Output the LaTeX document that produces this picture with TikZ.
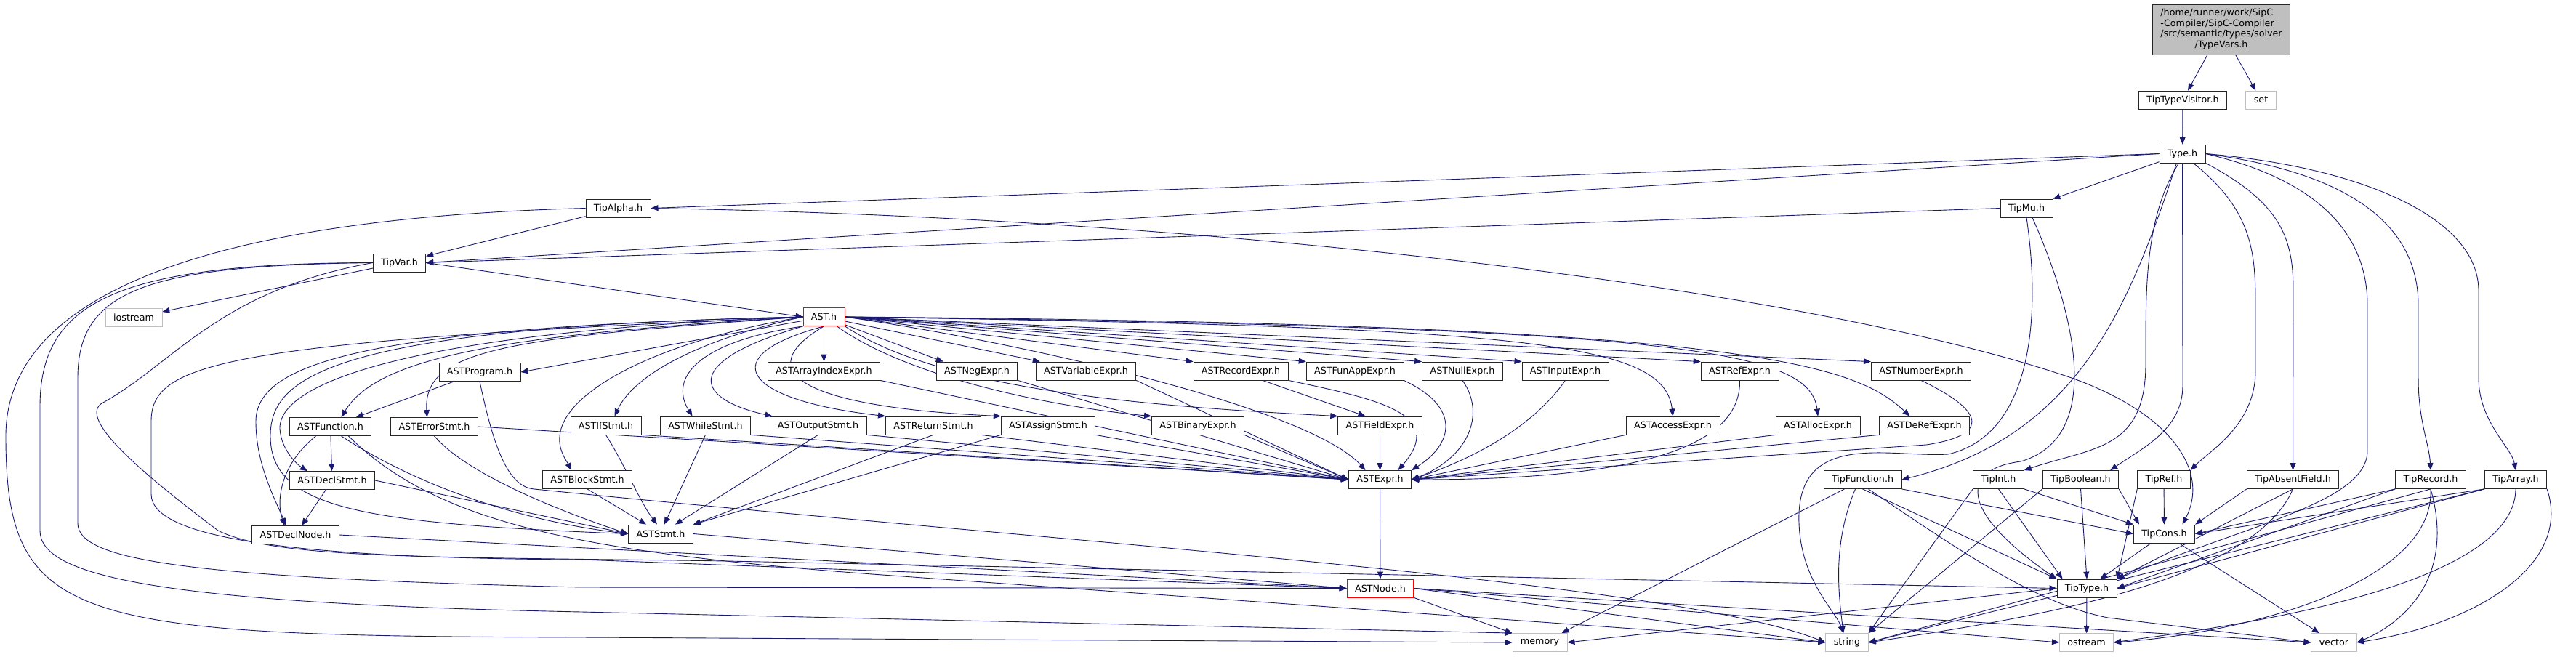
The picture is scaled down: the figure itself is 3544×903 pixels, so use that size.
\documentclass[tikz,border=0pt]{standalone}
\usepackage{fontspec}
\setmainfont{DejaVu Sans}
\usetikzlibrary{arrows.meta,backgrounds}
\definecolor{edgeblue}{RGB}{25,25,112}

\begin{document}
\begin{tikzpicture}[x=1pt,y=-1pt,
  hfile/.style={draw=black!85,fill=white,line width=0.8pt,minimum height=25pt,
    inner xsep=11pt,inner ysep=0pt,font=\fontsize{12.7}{14.7}\selectfont},
  sysfile/.style={hfile,draw=black!25},
  redfile/.style={hfile,draw=red},
  dep/.style={draw=edgeblue,line width=0.9pt,-{Triangle[length=10pt,width=8pt]}}]
\useasboundingbox (0,0) rectangle (3544,903);

% top of the graph
\node[hfile,fill=black!25,inner ysep=5pt] (tvars) at (3056,40.5) {\begin{tabular}{@{}l@{}}/home/runner/work/SipC\\-Compiler/SipC-Compiler\\/src/semantic/types/solver\\\multicolumn{1}{@{}c@{}}{/TypeVars.h}\end{tabular}};
\node[hfile] (ttv) at (3003,137.5) {TipTypeVisitor.h};
\node[sysfile] (hset) at (3110.5,137.5) {set};
\node[hfile] (type) at (3002.5,211.5) {Type.h};
\node[hfile] (alpha) at (850.5,286.5) {TipAlpha.h};
\node[hfile] (mu) at (2788,286.5) {TipMu.h};
\node[hfile] (var) at (549.5,361.5) {TipVar.h};
\node[sysfile] (ios) at (184,437) {iostream};
\node[redfile] (ast) at (1133.5,436) {AST.h};

% AST headers
\node[hfile] (prog) at (660,512) {ASTProgram.h};
\node[hfile] (aidx) at (1133.5,510.5) {ASTArrayIndexExpr.h};
\node[hfile] (neg) at (1344,510.5) {ASTNegExpr.h};
\node[hfile] (vexp) at (1494,510.5) {ASTVariableExpr.h};
\node[hfile] (rec) at (1707,510.5) {ASTRecordExpr.h};
\node[hfile] (fapp) at (1864,510.5) {ASTFunAppExpr.h};
\node[hfile] (null) at (2012,510.5) {ASTNullExpr.h};
\node[hfile] (inp) at (2153.5,510.5) {ASTInputExpr.h};
\node[hfile] (ref) at (2393.5,510.5) {ASTRefExpr.h};
\node[hfile] (num) at (2643,510.5) {ASTNumberExpr.h};
\node[hfile] (func) at (454.5,587) {ASTFunction.h};
\node[hfile] (err) at (597.5,587) {ASTErrorStmt.h};
\node[hfile] (ifs) at (833.5,585.5) {ASTIfStmt.h};
\node[hfile] (whl) at (970.5,585.5) {ASTWhileStmt.h};
\node[hfile] (outs) at (1125.5,585.5) {ASTOutputStmt.h};
\node[hfile] (ret) at (1284,585.5) {ASTReturnStmt.h};
\node[hfile] (asg) at (1442,585.5) {ASTAssignStmt.h};
\node[hfile] (bin) at (1648,585.5) {ASTBinaryExpr.h};
\node[hfile] (fld) at (1898.5,585.5) {ASTFieldExpr.h};
\node[hfile] (acc) at (2301.5,585.5) {ASTAccessExpr.h};
\node[hfile] (alloc) at (2501,585.5) {ASTAllocExpr.h};
\node[hfile] (deref) at (2647.5,585.5) {ASTDeRefExpr.h};
\node[hfile] (dstmt) at (457,661) {ASTDeclStmt.h};
\node[hfile] (blk) at (808,660) {ASTBlockStmt.h};
\node[hfile] (expr) at (1898.5,660) {ASTExpr.h};
\node[hfile] (dnode) at (406.5,736) {ASTDeclNode.h};
\node[hfile] (stmt) at (909,734.5) {ASTStmt.h};
\node[redfile] (astnode) at (1899,809.5) {ASTNode.h};

% Tip types
\node[hfile] (tfun) at (2562.5,660) {TipFunction.h};
\node[hfile] (tint) at (2749.5,660) {TipInt.h};
\node[hfile] (tbool) at (2862.5,660) {TipBoolean.h};
\node[hfile] (tref) at (2977,660) {TipRef.h};
\node[hfile] (tabs) at (3154.5,660) {TipAbsentField.h};
\node[hfile] (trec) at (3344,660) {TipRecord.h};
\node[hfile] (tarr) at (3461,660) {TipArray.h};
\node[hfile] (tcons) at (2977.5,734.5) {TipCons.h};
\node[hfile] (ttype) at (2871,809.5) {TipType.h};

% system headers
\node[sysfile] (mem) at (2118.5,884) {memory};
\node[sysfile] (str) at (2541,884) {string};
\node[sysfile] (ost) at (2870.5,884) {ostream};
\node[sysfile] (vec) at (3211,884) {vector};

\begin{scope}[on background layer]
% TypeVars.h, TipTypeVisitor.h
\draw[dep] (tvars) -- (ttv);
\draw[dep] (tvars) -- (hset);
\draw[dep] (ttv) -- (type);
% Type.h
\draw[dep] (type.west) -- (alpha.east);
\draw[dep] (type.west) -- (var.east);
\draw[dep] (type) -- (mu.north east);
\draw[dep] ([xshift=-8pt]type.south) .. controls (2930,420) and (2860,600) .. (tfun.east);
\draw[dep] ([xshift=-5pt]type.south) .. controls (2950,300) and (2952,400) .. (2952,500) .. controls (2952,620) and (2880,615) .. (tint.north east);
\draw[dep] (type.south) -- (3003,530) .. controls (3003,590) and (2950,615) .. ([xshift=-12pt]tbool.north east);
\draw[dep] ([xshift=15pt]type.south) .. controls (3100,290) and (3103,350) .. (3103,420) -- (3103,510) .. controls (3103,585) and (3040,620) .. (tref.north east);
\draw[dep] (type.south east) .. controls (3140,280) and (3155,330) .. (3155,400) -- (tabs.north);
\draw[dep] (type.east) .. controls (3200,250) and (3257,330) .. (3257,420) -- (3257,620) .. controls (3257,690) and (3100,720) .. (ttype.north east);
\draw[dep] (type.east) .. controls (3250,240) and (3327,320) .. (3327,420) -- (3327,520) .. controls (3327,580) and (3342,610) .. (trec.north);
\draw[dep] (type.east) .. controls (3250,230) and (3410,300) .. (3410,400) -- (3410,520) .. controls (3410,580) and (3455,615) .. (tarr.north);
% TipAlpha.h
\draw[dep] (alpha) -- (var);
\draw[dep] (alpha.east) .. controls (1700,300) and (2500,400) .. (2850,520) .. controls (2990,570) and (3040,650) .. ([xshift=25pt]tcons.north);
\draw[dep] (alpha.west) .. controls (300,300) and (8,400) .. (8,600) .. controls (8,860) and (100,875) .. (800,877) -- (mem.west);
% TipMu.h
\draw[dep] (mu.west) -- (var.east);
\draw[dep] (mu.south) .. controls (2810,450) and (2790,600) .. (2680,625) .. controls (2600,630) and (2470,590) .. (2475,720) .. controls (2478,800) and (2525,840) .. ([xshift=-5pt]str.north);
\draw[dep] ([xshift=8pt]mu.south) .. controls (2850,420) and (2900,600) .. (2780,635) .. controls (2700,645) and (2690,700) .. (ttype.north west);
% TipVar.h
\draw[dep] (var.east) -- (ast.west);
\draw[dep] (var) -- (ios);
\draw[dep] (var.west) .. controls (300,400) and (240,500) .. (140,555) .. controls (110,575) and (180,640) .. (300,730) .. controls (380,770) and (600,766) .. (1000,772) -- (ttype.west);
\draw[dep] (var.west) .. controls (200,365) and (107,400) .. (107,520) -- (107,720) .. controls (107,770) and (250,795) .. (800,808) -- (astnode.west);
\draw[dep] (var.west) .. controls (150,362) and (55,420) .. (55,560) -- (55,730) .. controls (55,790) and (200,830) .. (800,842) -- (mem.north west);
% AST.h
\draw[dep] (ast) -- (prog.east);
\draw[dep] (ast.west) .. controls (700,460) and (520,490) .. ([xshift=15pt]func.north);
\draw[dep] (ast.west) .. controls (700,465) and (582,480) .. ([xshift=-10pt]err.north);
\draw[dep] (ast.west) .. controls (600,455) and (383,520) .. (385,590) .. controls (387,620) and (410,640) .. ([xshift=-34pt]dstmt.north);
\draw[dep] (ast.west) .. controls (500,450) and (352,500) .. (352,580) .. controls (352,640) and (380,690) .. ([xshift=-13pt]dnode.north);
\draw[dep] (ast.west) .. controls (450,450) and (372,520) .. (372,600) .. controls (372,700) and (500,720) .. (stmt.west);
\draw[dep] (ast.west) .. controls (300,470) and (208,500) .. (208,580) -- (208,680) .. controls (208,740) and (400,768) .. (800,770) -- (astnode.west);
\draw[dep] (ast.west) .. controls (900,470) and (775,540) .. (770,600) .. controls (768,620) and (780,635) .. ([xshift=-22pt]blk.north);
\draw[dep] (ast.west) .. controls (950,470) and (870,520) .. ([xshift=12pt]ifs.north);
\draw[dep] (ast.south west) .. controls (960,470) and (920,520) .. ([xshift=-18pt]whl.north);
\draw[dep] (ast.south west) .. controls (930,500) and (960,550) .. ([xshift=-63pt]outs.north);
\draw[dep] (ast.south) .. controls (980,490) and (1020,550) .. (ret.north west);
\draw[dep] (ast.south) .. controls (1030,510) and (1100,560) .. (asg.north west);
\draw[dep] (ast) -- (aidx);
\draw[dep] (ast) -- ([xshift=10pt]neg.north west);
\draw[dep] (ast) -- ([xshift=6pt]vexp.north west);
\draw[dep] (ast.east) -- (rec.north west);
\draw[dep] (ast.east) -- (fapp.north west);
\draw[dep] (ast.east) -- (null.north west);
\draw[dep] (ast.east) -- (inp.north west);
\draw[dep] (ast.east) -- (ref.north west);
\draw[dep] (ast.east) -- (num.north west);
\draw[dep] (ast.east) .. controls (2100,450) and (2290,470) .. (acc.north);
\draw[dep] (ast.east) .. controls (2300,450) and (2490,480) .. (alloc.north);
\draw[dep] (ast.east) .. controls (2400,445) and (2550,500) .. ([xshift=-20pt]deref.north);
\draw[dep] (ast) .. controls (1250,520) and (1450,560) .. (bin.north west);
\draw[dep] (ast.south east) .. controls (1300,540) and (1600,560) .. (fld.north west);
\draw[dep] (ast.east) .. controls (1400,470) and (1800,560) .. ([xshift=-20pt]expr.north);
% expressions
\draw[dep] (aidx.south east) -- (expr.west);
\draw[dep] (neg.south east) -- (expr.west);
\draw[dep] (vexp.south east) -- (expr.west);
\draw[dep] ([xshift=30pt]rec.south) -- ([xshift=-20pt]fld.north);
\draw[dep] (rec.south east) .. controls (1900,550) and (1990,570) .. ([xshift=25pt]expr.north);
\draw[dep] (fapp.south east) .. controls (2010,560) and (2000,610) .. (expr.north east);
\draw[dep] (null.south) .. controls (2045,570) and (2020,630) .. (expr.east);
\draw[dep] (inp.south) .. controls (2100,600) and (2000,640) .. (expr.east);
\draw[dep] (ref.south) .. controls (2395,600) and (2300,660) .. (expr.east);
\draw[dep] (acc.south west) -- (expr.east);
\draw[dep] (alloc.south west) -- (expr.east);
\draw[dep] (deref.south west) -- (expr.east);
\draw[dep] (num.south) .. controls (2740,570) and (2730,600) .. (2650,612) -- (expr.east);
\draw[dep] (bin.south east) -- (expr.west);
\draw[dep] (fld) -- (expr);
% statements
\draw[dep] (ifs.south) .. controls (860,640) and (880,690) .. ([xshift=-5pt]stmt.north);
\draw[dep] (ifs.south east) -- (expr.west);
\draw[dep] (whl.south) -- ([xshift=5pt]stmt.north);
\draw[dep] (whl.south east) -- (expr.west);
\draw[dep] (outs.south) -- ([xshift=20pt]stmt.north);
\draw[dep] (outs.south east) -- (expr.west);
\draw[dep] (ret.south) -- (stmt.north east);
\draw[dep] (ret.south east) -- (expr.west);
\draw[dep] (asg.south west) -- (stmt.north east);
\draw[dep] (asg.south east) -- (expr.west);
\draw[dep] (blk.south) -- ([xshift=-20pt]stmt.north);
\draw[dep] (err.south) .. controls (640,650) and (760,700) .. (stmt.west);
\draw[dep] (err.east) -- (expr.west);
\draw[dep] (dstmt) -- (dnode);
\draw[dep] (dstmt.east) -- (stmt.west);
\draw[dep] ([xshift=-20pt]func.south) .. controls (385,640) and (380,690) .. ([xshift=-15pt]dnode.north);
\draw[dep] (func) -- (dstmt);
\draw[dep] ([xshift=15pt]func.south) .. controls (560,660) and (700,715) .. (stmt.west);
\draw[dep] ([xshift=25pt]func.south) .. controls (600,720) and (800,760) .. (1200,790) -- (str.west);
\draw[dep] (prog) -- (func);
\draw[dep] (prog.south) .. controls (680,620) and (700,670) .. (735,673) .. controls (1500,750) and (2300,800) .. (str.west);
% ASTStmt.h, ASTDeclNode.h, ASTExpr.h, ASTNode.h
\draw[dep] (stmt.east) -- (astnode.west);
\draw[dep] (dnode.east) -- (astnode.west);
\draw[dep] (expr) -- (astnode);
\draw[dep] (astnode.south east) -- (mem.north west);
\draw[dep] (astnode.east) -- (str.west);
\draw[dep] (astnode.east) -- (ost.west);
\draw[dep] (astnode.east) -- (vec.west);
% TipFunction.h
\draw[dep] ([xshift=-25pt]tfun.south) -- ([xshift=30pt]mem.north);
\draw[dep] ([xshift=-10pt]tfun.south) .. controls (2520,750) and (2530,820) .. ([xshift=-5pt]str.north);
\draw[dep] (tfun.south) -- (ttype.north west);
\draw[dep] ([xshift=8pt]tfun.south) .. controls (2700,760) and (2800,830) .. (2900,850) -- (vec.west);
\draw[dep] (tfun.south east) -- (tcons.west);
% TipInt.h, TipBoolean.h, TipRef.h
\draw[dep] (tint.south west) -- (str.north east);
\draw[dep] (tint.south) -- ([xshift=8pt]ttype.north west);
\draw[dep] (tint.south east) -- (tcons.north west);
\draw[dep] (tbool.south west) -- (str.north east);
\draw[dep] (tbool.south) -- (ttype.north);
\draw[dep] (tbool.south east) -- ([xshift=8pt]tcons.north west);
\draw[dep] (tref.south west) -- (ttype.north east);
\draw[dep] (tref) -- (tcons);
% TipAbsentField.h, TipRecord.h, TipArray.h
\draw[dep] (tabs.south west) -- (tcons.north east);
\draw[dep] (tabs.south) -- (ttype.north east);
\draw[dep] (tabs.south) .. controls (3100,800) and (2800,850) .. (str.east);
\draw[dep] (trec.south west) -- (tcons.east);
\draw[dep] (trec.south west) -- (ttype.east);
\draw[dep] (trec.south) -- (str.east);
\draw[dep] (trec.south) .. controls (3350,800) and (3100,870) .. (ost.east);
\draw[dep] (trec.south) .. controls (3380,800) and (3300,860) .. (vec.east);
\draw[dep] (tarr.south west) -- (tcons.east);
\draw[dep] (tarr.south west) -- (ttype.east);
\draw[dep] (tarr.south west) -- (str.east);
\draw[dep] (tarr.south) .. controls (3460,820) and (3000,870) .. (ost.east);
\draw[dep] (tarr.south east) .. controls (3540,780) and (3400,860) .. (vec.east);
% TipCons.h, TipType.h
\draw[dep] (tcons) -- (ttype);
\draw[dep] (tcons) -- (vec);
\draw[dep] (ttype.west) -- (mem.east);
\draw[dep] (ttype) -- (ost);
\end{scope}
\end{tikzpicture}
\end{document}
